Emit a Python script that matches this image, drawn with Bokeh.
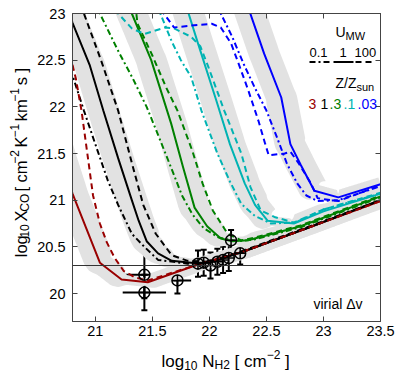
import numpy as np
from bokeh.plotting import figure
from bokeh.layouts import column, row
from bokeh.models import (Range1d, FixedTicker, LinearAxis, Label, ColumnDataSource,
                          Whisker, TeeHead, Span, Arrow)
from bokeh.embed import file_html
from bokeh.resources import INLINE

# ---------------- data ----------------
x_ticks = [21, 21.5, 22, 22.5, 23, 23.5]
x_tick_labels = ["21", "21.5", "22", "22.5", "23", "23.5"]
y_ticks = [20, 20.5, 21, 21.5, 22, 22.5, 23]
y_tick_labels = ["20", "20.5", "21", "21.5", "22", "22.5", "23"]

# Z/Zsun = 3 (dark red)
z3_u1_x = [20.6, 20.7, 20.8, 20.92, 21.04, 21.23, 21.46, 21.9, 22.3, 22.9, 23.5]
z3_u1_y = [21.85, 21.45, 21.07, 20.7, 20.33, 20.15, 20.12, 20.31, 20.45, 20.72, 20.99]
z3_u100_x = [20.8, 20.83, 20.88, 20.93, 20.98, 21.04, 21.1, 21.17, 21.25, 21.35, 21.46, 21.9, 22.3, 22.9, 23.5]
z3_u100_y = [22.45, 22.3, 21.95, 21.5, 21.05, 20.75, 20.55, 20.38, 20.24, 20.17, 20.14, 20.31, 20.45, 20.72, 20.99]

# Z/Zsun = 1 (black)
z1_u01_x = [20.78, 20.81, 20.9, 21.0, 21.11, 21.2, 21.32, 21.43, 21.55, 21.81, 22.0, 22.3, 22.9, 23.5]
z1_u01_y = [22.4, 22.3, 21.96, 21.6, 21.21, 20.95, 20.64, 20.5, 20.36, 20.32, 20.33, 20.45, 20.72, 21.0]
z1_u1_x = [20.75, 20.8, 20.95, 21.07, 21.2, 21.32, 21.38, 21.45, 21.55, 21.67, 21.84, 22.0, 22.3, 22.9, 23.5]
z1_u1_y = [23.1, 22.9, 22.45, 21.96, 21.45, 21.0, 20.78, 20.56, 20.43, 20.35, 20.33, 20.33, 20.45, 20.72, 21.0]
z1_u100_x = [20.88, 20.9, 21.05, 21.2, 21.32, 21.42, 21.53, 21.67, 21.81, 22.0, 22.3, 22.9, 23.5]
z1_u100_y = [23.1, 23.0, 22.5, 21.96, 21.4, 20.95, 20.64, 20.41, 20.35, 20.34, 20.46, 20.73, 21.0]

# Z/Zsun = 0.3 (green)
z03_u01_x = [21.0, 21.04, 21.2, 21.33, 21.45, 21.55, 21.68, 21.76, 21.85, 21.95, 22.08, 22.25, 22.4, 22.8, 23.5]
z03_u01_y = [23.1, 23.0, 22.6, 22.3, 22.0, 21.7, 21.3, 21.05, 20.85, 20.7, 20.6, 20.56, 20.58, 20.71, 21.03]
z03_u1_x = [21.29, 21.32, 21.49, 21.665, 21.77, 21.87, 21.98, 22.1, 22.2, 22.34, 22.8, 23.5]
z03_u1_y = [23.1, 23.0, 22.5, 21.82, 21.35, 20.92, 20.72, 20.59, 20.56, 20.57, 20.72, 21.04]
z03_u100_x = [21.35, 21.37, 21.5, 21.62, 21.72, 21.85, 21.94, 22.03, 22.16, 22.28, 22.4, 22.8, 23.5]
z03_u100_y = [23.1, 22.89, 22.55, 22.21, 21.96, 21.53, 21.18, 20.89, 20.64, 20.57, 20.6, 20.73, 21.05]

# Z/Zsun = 0.1 (cyan)
z01_u01_x = [21.55, 21.57, 21.67, 21.75, 21.84, 21.93, 22.07, 22.18, 22.28, 22.4, 22.54, 22.75, 23.0, 23.5]
z01_u01_y = [23.1, 23.0, 22.7, 22.5, 22.32, 21.96, 21.5, 21.2, 20.96, 20.83, 20.75, 20.76, 20.9, 21.07]
z01_u1_x = [21.79, 21.81, 21.9, 22.06, 22.18, 22.31, 22.4, 22.51, 22.74, 23.0, 23.5]
z01_u1_y = [23.1, 23.03, 22.68, 22.07, 21.6, 21.18, 20.95, 20.78, 20.75, 20.88, 21.07]
z01_u100_x = [21.18, 21.2, 21.32, 21.43, 21.61, 21.69, 21.84, 21.92, 21.99, 22.13, 22.28, 22.36, 22.45, 22.57, 22.74, 23.0, 23.5]
z01_u100_y = [23.05, 23.0, 22.84, 22.78, 22.85, 22.84, 22.75, 22.65, 22.43, 21.96, 21.5, 21.14, 20.89, 20.82, 20.76, 20.9, 21.08]

# Z/Zsun = 0.03 (blue)
z003_u01_x = [22.08, 22.1, 22.2, 22.3, 22.4, 22.5, 22.59, 22.68, 22.77, 22.85, 22.95, 23.13, 23.5]
z003_u01_y = [23.1, 23.0, 22.75, 22.46, 22.2, 21.96, 21.68, 21.39, 21.18, 21.05, 20.99, 21.0, 21.15]
z003_u1_x = [22.33, 22.35, 22.48, 22.63, 22.71, 22.8, 22.92, 23.13, 23.5]
z003_u1_y = [23.1, 23.03, 22.57, 22.1, 21.6, 21.38, 21.1, 21.03, 21.17]
z003_u100_x = [21.58, 21.6, 21.69, 21.84, 22.02, 22.1, 22.19, 22.26, 22.34, 22.43, 22.49, 22.52, 22.66, 22.71, 22.78, 22.89, 22.95, 23.13, 23.5]
z003_u100_y = [23.05, 23.0, 22.85, 22.87, 22.89, 22.85, 22.68, 22.45, 22.18, 21.85, 21.6, 21.48, 21.5, 21.52, 21.4, 21.18, 21.02, 20.99, 21.16]

# observed clouds
obs_x = [21.43, 21.43, 21.72, 21.90, 21.95, 22.01, 22.07, 22.12, 22.17, 22.19, 22.27]
obs_y = [20.20, 20.01, 20.14, 20.32, 20.33, 20.30, 20.34, 20.36, 20.38, 20.57, 20.43]
obs_xerr = [0.22, 0.19, 0.12, 0.08, 0.08, 0.08, 0.08, 0.08, 0.08, 0.06, 0.08]
obs_yerr = [0.25, 0.19, 0.14, 0.14, 0.14, 0.14, 0.14, 0.14, 0.14, 0.11, 0.12]

virial_level = 20.3

metal_labels = ["3", "1", ".3", ".1", ".03"]
u_labels = ["0.1", "1", "100"]

# ---------------- style ----------------
FONT = "Liberation Sans"
C_RED, C_BLACK, C_GREEN, C_CYAN, C_BLUE = "#990000", "#000000", "#008000", "#00b3b3", "#0000ff"
BAND = "#e2e2e2"
DASH = "6 4"
DASHDOT = "6 3 2 3"
LW = 2

X0, X1, Y0, Y1 = 20.8, 23.5, 19.7, 23.0
FW, FH = 309, 308
SX, SY = FW / (X1 - X0), FH / (Y1 - Y0)

TOTAL_W, TOTAL_H = 399, 373
YW = 34          # strip for the y-axis title
MH = 345         # height of the main figure
XH = TOTAL_H - MH

p = figure(width=TOTAL_W - YW, height=MH, output_backend="svg", toolbar_location=None,
           x_range=Range1d(X0, X1), y_range=Range1d(Y0, Y1),
           min_border_left=71 - YW, min_border_right=19, min_border_top=13, min_border_bottom=24)
p.grid.visible = False
p.outline_line_color = "#444444"
p.background_fill_color = "white"
p.border_fill_color = "white"

for ax, ticks, labels in ((p.xaxis[0], x_ticks, x_tick_labels), (p.yaxis[0], y_ticks, y_tick_labels)):
    ax.ticker = FixedTicker(ticks=ticks)
    ax.major_label_overrides = {t: l for t, l in zip(ticks, labels)}
    ax.major_tick_in = 5
    ax.major_tick_out = 0
    ax.minor_tick_line_color = None
    ax.axis_line_color = "#444444"
    ax.major_tick_line_color = "#444444"
    ax.major_label_text_font = FONT
    ax.major_label_text_font_size = "14.5px"
    ax.major_label_text_color = "black"
p.xaxis[0].major_label_standoff = 4
p.yaxis[0].major_label_standoff = 7

for side, ticks in (("above", x_ticks), ("right", y_ticks)):
    a = LinearAxis(ticker=FixedTicker(ticks=ticks), major_tick_in=5, major_tick_out=0,
                   minor_tick_line_color=None, axis_line_color="#444444",
                   major_tick_line_color="#444444", major_label_text_color=None,
                   major_label_standoff=0)
    p.add_layout(a, side)


def strip(w, h):
    f = figure(width=w, height=h, output_backend="svg", toolbar_location=None,
               x_range=Range1d(0, w), y_range=Range1d(0, h),
               x_axis_location=None, y_axis_location=None, min_border=0)
    f.grid.visible = False
    f.outline_line_color = None
    f.background_fill_color = "white"
    f.border_fill_color = "white"
    return f


ylab = strip(YW, MH)
xlab = strip(TOTAL_W, XH)

# ---------------- texts ----------------
CW = {' ': .278, '[': .278, ']': .278, '-': .333, '\u2212': .584, '.': .278, '/': .278,
      'l': .222, 'o': .556, 'g': .556, 'c': .5, 'm': .833, 's': .5, 'k': .5, 'i': .222,
      'r': .333, 'a': .556, 'v': .5, 'u': .556, 'n': .556, 'N': .722, 'H': .722, 'X': .667,
      'C': .722, 'O': .778, 'K': .667, 'U': .722, 'M': .833, 'W': .944, 'Z': .611,
      '\u0394': .668}


def tw(s, size):
    return sum(CW.get(c, .556) for c in s) * size


def label(fig, x, y, text, size, color="black", angle=0, units="screen"):
    fig.add_layout(Label(x=x, y=y, x_units=units, y_units=units, text=text,
                         text_font=FONT, text_font_size=f"{size}px", text_color=color,
                         text_baseline="alphabetic", text_align="left",
                         angle=angle, angle_units="deg"))


def rich(fig, pieces, x0, y0, vertical=False):
    pos = x0 if not vertical else y0
    for text, size, shift in pieces:
        lead = len(text) - len(text.lstrip(' '))
        pos += tw(' ' * lead, size)
        t = text.strip(' ')
        if vertical:
            label(fig, x0 + shift, pos, t, size, angle=90, units="data")
        else:
            label(fig, pos, y0 + shift, t, size, units="data")
        pos += tw(t, size) + tw(' ' * (len(text) - lead - len(t)), size)


# x-axis title (in the strip below the main figure)
rich(xlab, [("log", 17, 0), ("10", 12, -4), (" N", 17, 0), ("H2", 12, -4), (" [ cm", 17, 0),
            ("\u22122", 12, 7), (" ]", 17, 0)], 161, TOTAL_H - 360.5)
# y-axis title (rotated, in the strip left of the main figure)
rich(ylab, [("log", 16.5, 0), ("10", 12, 4), (" X", 16.5, 0), ("CO", 12, 4), (" [ cm", 16.5, 0),
            ("\u22122", 12, -6), (" K", 16.5, 0), ("\u22121", 12, -6), (" km", 16.5, 0),
            ("\u22121", 12, -6), (" s ]", 16.5, 0)], 20, MH - 273, vertical=True)

label(p, 241, 18, "virial \u0394v", 14)

# legend
label(p, 263, 290, "U", 14)
label(p, 263 + tw("U", 14), 286, "MW", 11)
for t, xx in zip(u_labels, (237, 267, 282)):
    label(p, xx, 269, t, 13)
label(p, 263, 239, "Z/Z", 14)
label(p, 263 + tw("Z/Z", 14), 235, "sun", 11)
for t, xx, col in zip(metal_labels, (236, 248, 257, 271, 285),
                      (C_RED, C_BLACK, C_GREEN, C_CYAN, C_BLUE)):
    label(p, xx, 218, t, 14, color=col)


def band(xs, ys, w0=3.5, w1=12.5, n=400):
    P = np.column_stack([np.asarray(xs) * SX, np.asarray(ys) * SY])
    seg = np.linalg.norm(np.diff(P, axis=0), axis=1)
    s = np.concatenate([[0], np.cumsum(seg)])
    ss = np.linspace(0, s[-1], n)
    Q = np.column_stack([np.interp(ss, s, P[:, 0]), np.interp(ss, s, P[:, 1])])
    T = np.gradient(Q, axis=0)
    k = 9
    T = np.column_stack([np.convolve(T[:, 0], np.ones(k) / k, mode="same"),
                         np.convolve(T[:, 1], np.ones(k) / k, mode="same")])
    T /= np.linalg.norm(T, axis=1)[:, None]
    N = np.column_stack([-T[:, 1], T[:, 0]])
    w = w0 + w1 * np.abs(T[:, 1])
    L = Q + N * w[:, None]
    R = Q - N * w[:, None]
    poly = np.vstack([L, R[::-1]])
    return poly[:, 0] / SX, poly[:, 1] / SY


# gray bands around the U_MW = 1 models
for xs, ys in ((z3_u1_x, z3_u1_y), (z1_u1_x, z1_u1_y), (z03_u1_x, z03_u1_y),
               (z01_u1_x, z01_u1_y), (z003_u1_x, z003_u1_y)):
    bx, by = band(xs, ys)
    p.patch(bx, by, fill_color=BAND, line_color=None)

groups = [
    (C_RED, None, (z3_u1_x, z3_u1_y), None),
    (C_BLACK, (z1_u01_x, z1_u01_y), (z1_u1_x, z1_u1_y), (z1_u100_x, z1_u100_y)),
    (C_RED, None, None, (z3_u100_x, z3_u100_y)),
    (C_GREEN, (z03_u01_x, z03_u01_y), (z03_u1_x, z03_u1_y), (z03_u100_x, z03_u100_y)),
    (C_CYAN, (z01_u01_x, z01_u01_y), (z01_u1_x, z01_u1_y), (z01_u100_x, z01_u100_y)),
    (C_BLUE, (z003_u01_x, z003_u01_y), (z003_u1_x, z003_u1_y), (z003_u100_x, z003_u100_y)),
]
for col, dd, so, da in groups:
    if dd:
        p.line(dd[0], dd[1], line_color=col, line_width=LW, line_dash=DASHDOT)
    if so:
        p.line(so[0], so[1], line_color=col, line_width=LW)
    if da:
        p.line(da[0], da[1], line_color=col, line_width=LW, line_dash=DASH)

for (xa, xb), dash in (((237, 257), DASHDOT), ((261, 281), "solid"), ((283, 302), DASH)):
    p.add_layout(Arrow(x_start=xa, y_start=259.5, x_end=xb, y_end=259.5,
                       start_units="screen", end_units="screen", start=None, end=None,
                       line_color="black", line_width=2, line_dash=dash))

p.add_layout(Span(location=virial_level, dimension="width", line_color="#333333", line_width=1))

src = ColumnDataSource(dict(
    x=obs_x, y=obs_y,
    xl=[a - b for a, b in zip(obs_x, obs_xerr)], xu=[a + b for a, b in zip(obs_x, obs_xerr)],
    yl=[a - b for a, b in zip(obs_y, obs_yerr)], yu=[a + b for a, b in zip(obs_y, obs_yerr)]))
p.add_layout(Whisker(source=src, base="y", lower="xl", upper="xu", dimension="width",
                     line_color="black", line_width=2, lower_head=None, upper_head=None))
p.add_layout(Whisker(source=src, base="x", lower="yl", upper="yu", dimension="height",
                     line_color="black", line_width=2,
                     lower_head=TeeHead(size=6, line_color="black", line_width=2),
                     upper_head=TeeHead(size=6, line_color="black", line_width=2)))
p.scatter("x", "y", source=src, marker="circle_cross", size=11, fill_color=None,
          line_color="black", line_width=1.5)

layout = column(row(ylab, p, spacing=0), xlab, spacing=0)
open("out.html", "w").write(file_html(layout, INLINE))
